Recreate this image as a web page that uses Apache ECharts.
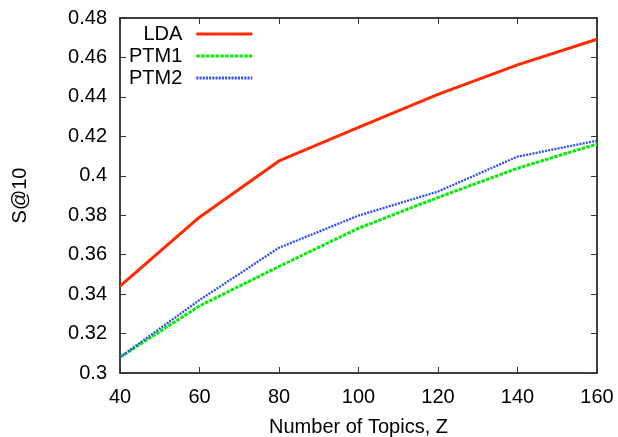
<!DOCTYPE html>
<html>
<head>
<meta charset="utf-8">
<script src="https://cdn.jsdelivr.net/npm/echarts@6/dist/echarts.min.js"></script>
<style>html,body{margin:0;padding:0;background:#fff}#c{width:618px;height:437px}</style>
</head>
<body>
<div id="c"></div>
<script>
var topics = [40, 60, 80, 100, 120, 140, 160];
var lda  = [0.344, 0.379, 0.4075, 0.4245, 0.4413, 0.4562, 0.4692];
var ptm1 = [0.308, 0.334, 0.354, 0.3734, 0.389, 0.4038, 0.4161];
var ptm2 = [0.308, 0.337, 0.3635, 0.3798, 0.392, 0.4097, 0.4178];
var seriesNames = ['LDA', 'PTM1', 'PTM2'];

function pairs(arr){ return topics.map(function(x,i){ return [x, arr[i]]; }); }

var font = 'Liberation Sans, Arial, Helvetica, sans-serif';
var chart = echarts.init(document.getElementById('c'), null, {renderer:'canvas'});
var axisLine = {show:true, lineStyle:{color:'#000', width:1.5}};
var tick = {show:true, inside:true, length:6, lineStyle:{color:'#333', width:1}};
chart.setOption({
  animation:false,
  backgroundColor:'#fff',
  grid:{left:120, right:21, top:18, bottom:64, containLabel:false, outerBoundsMode:'none'},
  legend:{
    data:seriesNames, orient:'vertical', align:'right',
    left:124, top:19, itemWidth:56, itemHeight:14, itemGap:2,
    itemStyle:{opacity:0},
    lineStyle:{width:3},
    textStyle:{fontFamily:font, fontSize:20, color:'#000', padding:[0,9,0,0]}
  },
  xAxis:[{
    type:'value', min:40, max:160, interval:20,
    name:'Number of Topics, Z', nameLocation:'middle', nameGap:44,
    nameTextStyle:{fontFamily:font, fontSize:20, color:'#000'},
    axisLine:axisLine, axisTick:tick, splitLine:{show:false},
    axisLabel:{fontFamily:font, fontSize:20, color:'#000', margin:14}
  },{
    type:'value', min:40, max:160, interval:20, position:'top',
    axisLine:axisLine, axisTick:tick, splitLine:{show:false}, axisLabel:{show:false}
  }],
  yAxis:[{
    type:'value', min:0.3, max:0.48, interval:0.02,
    name:'S@10', nameLocation:'middle', nameGap:90, nameRotate:90,
    nameTextStyle:{fontFamily:font, fontSize:20, color:'#000'},
    axisLine:axisLine, axisTick:tick, splitLine:{show:false},
    axisLabel:{fontFamily:font, fontSize:20, color:'#000', margin:13}
  },{
    type:'value', min:0.3, max:0.48, interval:0.02, position:'right',
    axisLine:axisLine, axisTick:tick, splitLine:{show:false}, axisLabel:{show:false}
  }],
  series:[
    {name:'LDA', type:'line', data:pairs(lda), symbol:'none', showSymbol:false, z:3,
     lineStyle:{color:'#ff2a00', width:3}, itemStyle:{color:'#ff2a00'}},
    {name:'PTM1', type:'line', data:pairs(ptm1), symbol:'none', showSymbol:false, z:2,
     lineStyle:{color:'#00ee00', width:3, type:[3.5,1.3]}, itemStyle:{color:'#00ee00'}},
    {name:'PTM2', type:'line', data:pairs(ptm2), symbol:'none', showSymbol:false, z:4,
     lineStyle:{color:'#2a4aff', width:2.3, type:[2,1.2]}, itemStyle:{color:'#2a4aff'}}
  ]
});
</script>
</body>
</html>
